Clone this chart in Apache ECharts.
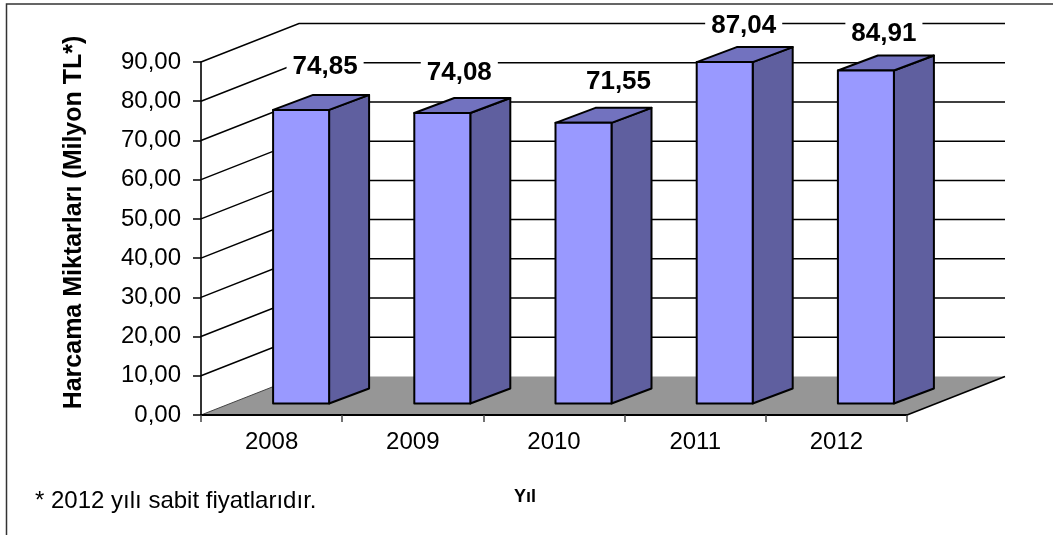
<!DOCTYPE html>
<html>
<head>
<meta charset="utf-8">
<style>
  html, body { margin: 0; padding: 0; background: #fff; }
  #chart { width: 1053px; height: 535px; }
</style>
<script src="https://cdn.jsdelivr.net/npm/echarts@6/dist/echarts.min.js"></script>
</head>
<body>
<div id="chart"></div>
<script>
const years = ['2008', '2009', '2010', '2011', '2012'];
const spending = [74.85, 74.08, 71.55, 87.04, 84.91];
const spendingLabels = ['74,85', '74,08', '71,55', '87,04', '84,91'];
const yTicks = [0, 10, 20, 30, 40, 50, 60, 70, 80, 90];

const FONT = '"Liberation Sans", Arial, sans-serif';

// fake 3D offsets, in pixels
const WALL_DX = 98, WALL_DY = -38.5;
const BAR_IN_DX = 29.5, BAR_IN_DY = -11.5;
const BAR_W = 56, BAR_DX = 40, BAR_DY = -15;
// the labels do not sit at the same spot above each bar in the original
const LABEL_NUDGE = [[4, -2], [-3, 1], [15, 0], [-1, 5], [-2, 4]];

const myChart = echarts.init(document.getElementById('chart'));

// back wall grid lines
const renderGrid = (params, api) => {
  const rect = params.coordSys;
  const p = api.coord([0, api.value(0)]);
  const x0 = rect.x, x1 = rect.x + WALL_DX;
  const y0 = p[1], y1 = p[1] + WALL_DY;
  return {
    type: 'polyline',
    shape: { points: [[x0, y0], [x1, y1], [rect.x + rect.width + WALL_DX, y1]] },
    style: { stroke: '#000', lineWidth: 1.5, fill: null },
    silent: true
  };
};

const renderFloor = (params, api) => {
  const rect = params.coordSys;
  const y0 = api.coord([0, 0])[1];
  const l = rect.x, r = rect.x + rect.width;
  return {
    type: 'group',
    children: [
      {
        type: 'polygon',
        shape: { points: [[l, y0], [r, y0], [r + WALL_DX, y0 + WALL_DY], [l + WALL_DX, y0 + WALL_DY]] },
        style: { fill: '#969696', stroke: null }
      },
      {
        type: 'line',
        shape: { x1: l, y1: y0, x2: l + WALL_DX, y2: y0 + WALL_DY },
        style: { stroke: '#444', lineWidth: 1 }
      },
      {
        type: 'line',
        shape: { x1: r, y1: y0, x2: r + WALL_DX, y2: y0 + WALL_DY },
        style: { stroke: '#000', lineWidth: 1.5 }
      }
    ]
  };
};

const renderBar = (params, api) => {
  const c = api.coord([api.value(0), api.value(1)]);
  const b = api.coord([api.value(0), 0]);
  const l = c[0] + BAR_IN_DX - BAR_W / 2, r = l + BAR_W;
  const top = c[1] + BAR_IN_DY, bot = b[1] + BAR_IN_DY;
  const edge = { stroke: '#000', lineWidth: 2, lineJoin: 'round' };
  return {
    type: 'group',
    children: [
      {
        type: 'polygon',
        shape: { points: [[r, top], [r + BAR_DX, top + BAR_DY], [r + BAR_DX, bot + BAR_DY], [r, bot]] },
        style: Object.assign({ fill: '#5f5f9f' }, edge)
      },
      {
        type: 'polygon',
        shape: { points: [[l, top], [l + BAR_DX, top + BAR_DY], [r + BAR_DX, top + BAR_DY], [r, top]] },
        style: Object.assign({ fill: '#7272bf' }, edge)
      },
      {
        type: 'rect',
        shape: { x: l, y: top, width: BAR_W, height: bot - top },
        style: Object.assign({ fill: '#9999ff' }, edge)
      }
    ]
  };
};

const renderLabel = (params, api) => {
  const c = api.coord([api.value(0), api.value(1)]);
  const nudge = LABEL_NUDGE[params.dataIndex];
  return {
    type: 'text',
    x: c[0] + BAR_IN_DX + 20 + nudge[0],
    y: c[1] + BAR_IN_DY - 41 + nudge[1],
    style: {
      text: spendingLabels[params.dataIndex],
      font: 'bold 26px ' + FONT,
      fill: '#000',
      align: 'center',
      verticalAlign: 'middle',
      backgroundColor: '#fff',
      padding: [0, 6]
    }
  };
};

const option = {
  animation: false,
  backgroundColor: '#fff',
  title: {
    text: '* 2012 yılı sabit fiyatlarıdır.',
    left: 30,
    top: 484,
    textStyle: { fontFamily: FONT, fontSize: 24, fontWeight: 'normal', color: '#000' }
  },
  graphic: [
    {
      type: 'polyline',
      shape: { points: [[6.5, 535], [6.5, 4], [1053, 4]] },
      style: { stroke: '#333', lineWidth: 1.5, fill: null }
    }
  ],
  grid: { left: 201, top: 62, width: 706, height: 353 },
  xAxis: {
    type: 'category',
    data: years,
    name: 'Yıl',
    nameLocation: 'middle',
    nameGap: 73,
    nameTextStyle: {
      fontFamily: FONT,
      fontSize: 18,
      fontWeight: 'bold',
      color: '#000',
      padding: [0, 58, 0, 0]
    },
    axisLine: { lineStyle: { color: '#000', width: 2 } },
    axisTick: { show: true, length: 7, lineStyle: { color: '#444', width: 1.5 } },
    axisLabel: { fontFamily: FONT, fontSize: 24, color: '#000', margin: 15 },
    z: 5
  },
  yAxis: {
    type: 'value',
    min: 0,
    max: 90,
    interval: 10,
    name: 'Harcama Miktarları (Milyon TL*)',
    nameLocation: 'middle',
    nameGap: 114,
    nameTextStyle: {
      fontFamily: FONT,
      fontSize: 25,
      fontWeight: 'bold',
      color: '#000',
      padding: [0, 0, 0, 32]
    },
    axisLine: { show: true, lineStyle: { color: '#333', width: 2 } },
    axisTick: { show: true, length: 8, lineStyle: { color: '#000', width: 1.5 } },
    axisLabel: {
      fontFamily: FONT,
      fontSize: 24,
      color: '#000',
      margin: 20,
      formatter: v => v.toFixed(2).replace('.', ',')
    },
    splitLine: { show: false }
  },
  series: [
    {
      type: 'custom',
      name: 'grid',
      z: 1,
      silent: true,
      renderItem: renderGrid,
      encode: { y: 0 },
      data: yTicks.filter(v => v > 0).map(v => [v])
    },
    {
      type: 'custom',
      name: 'floor',
      z: 2,
      silent: true,
      renderItem: renderFloor,
      data: [[0]]
    },
    {
      type: 'custom',
      name: 'bars',
      z: 3,
      renderItem: renderBar,
      encode: { x: 0, y: 1 },
      data: spending.map((v, i) => [i, v])
    },
    {
      type: 'custom',
      name: 'labels',
      z: 4,
      renderItem: renderLabel,
      encode: { x: 0, y: 1 },
      data: spending.map((v, i) => [i, v])
    }
  ]
};

myChart.setOption(option);
</script>
</body>
</html>
